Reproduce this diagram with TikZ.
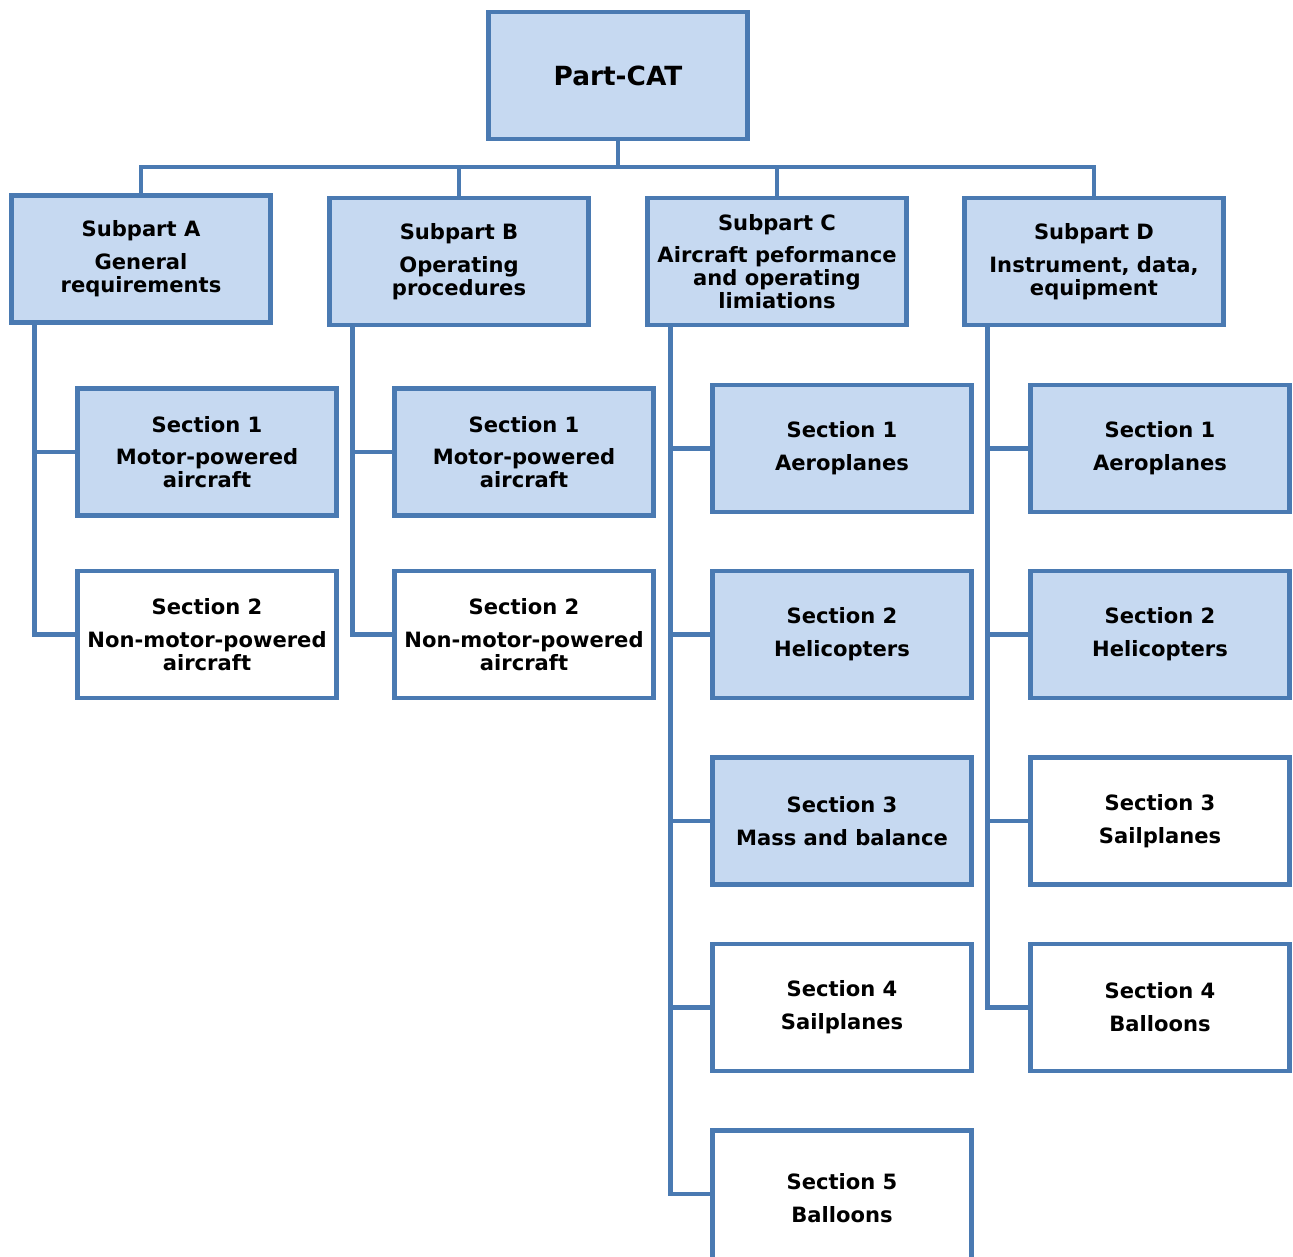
\documentclass[tikz,border=0pt]{standalone}
\usepackage{fontspec}
\setmainfont{DejaVu Sans}
\definecolor{catline}{RGB}{74,122,178}
\definecolor{catfill}{RGB}{198,217,241}
\tikzset{
  partbox/.style={draw=catline, line width=2.8pt, minimum width=5.18cm, minimum height=2.54cm,
    inner sep=0pt, align=center, font=\bfseries\fontsize{12}{13}\selectfont},
  bluebox/.style={partbox, fill=catfill},
  whitebox/.style={partbox, fill=white},
  link/.style={draw=catline, line width=2.8pt},
}
\begin{document}
\begin{tikzpicture}[x=0.02cm, y=-0.02cm]
  \useasboundingbox (0,0) rectangle (1293,1256);
  % top
  \node[bluebox, font=\bfseries\fontsize{15}{18}\selectfont] (cat) at (618,75.5) {Part-CAT};
  % subparts
  \node[bluebox] (suba) at (141,259) {Subpart A\\[5.7pt]General\\requirements};
  \node[bluebox] (subb) at (459,261.5) {Subpart B\\[5.7pt]Operating\\procedures};
  \node[bluebox] (subc) at (777,261.5) {Subpart C\\[5.7pt]Aircraft peformance\\and operating\\limiations};
  \node[bluebox] (subd) at (1094,261.5) {Subpart D\\[5.7pt]Instrument, data,\\equipment};
  % sections of A and B
  \node[bluebox] (a1) at (207,452) {Section 1\\[5.7pt]Motor-powered\\aircraft};
  \node[whitebox] (a2) at (207,634.5) {Section 2\\[5.7pt]Non-motor-powered\\aircraft};
  \node[bluebox] (b1) at (524,452) {Section 1\\[5.7pt]Motor-powered\\aircraft};
  \node[whitebox] (b2) at (524,634.5) {Section 2\\[5.7pt]Non-motor-powered\\aircraft};
  % sections of C
  \node[bluebox] (c1) at (842,448.5) {Section 1\\[5.7pt]Aeroplanes};
  \node[bluebox] (c2) at (842,634.5) {Section 2\\[5.7pt]Helicopters};
  \node[bluebox] (c3) at (842,821) {Section 3\\[5.7pt]Mass and balance};
  \node[whitebox] (c4) at (842,1007.5) {Section 4\\[5.7pt]Sailplanes};
  \node[whitebox, minimum height=2.7cm] (c5) at (842,1198) {Section 5\\[5.7pt]Balloons};
  % sections of D
  \node[bluebox] (d1) at (1160,448.5) {Section 1\\[5.7pt]Aeroplanes};
  \node[bluebox] (d2) at (1160,634.5) {Section 2\\[5.7pt]Helicopters};
  \node[whitebox] (d3) at (1160,821) {Section 3\\[5.7pt]Sailplanes};
  \node[whitebox] (d4) at (1160,1007.5) {Section 4\\[5.7pt]Balloons};
  % bus
  \coordinate (bus) at (618,167);
  \draw[link] (cat.south) -- (bus);
  \draw[link] (suba.north) |- (bus) -| (subd.north);
  \draw[link] (subb.north) -- (subb.north |- bus);
  \draw[link] (subc.north) -- (subc.north |- bus);
  % trunks
  \coordinate (ta) at ([xshift=0.5cm]suba.south west);
  \coordinate (tb) at ([xshift=0.5cm]subb.south west);
  \coordinate (tc) at ([xshift=0.5cm]subc.south west);
  \coordinate (td) at ([xshift=0.5cm]subd.south west);
  \draw[link] (ta) |- (a2.west);
  \draw[link] (ta |- a1.west) -- (a1.west);
  \draw[link] (tb) |- (b2.west);
  \draw[link] (tb |- b1.west) -- (b1.west);
  \draw[link] (tc) |- ([yshift=0.08cm]c5.west);
  \foreach \s in {c1,c2,c3,c4}
    \draw[link] (tc |- \s.west) -- (\s.west);
  \draw[link] (td) |- (d4.west);
  \foreach \s in {d1,d2,d3}
    \draw[link] (td |- \s.west) -- (\s.west);
\end{tikzpicture}
\end{document}
